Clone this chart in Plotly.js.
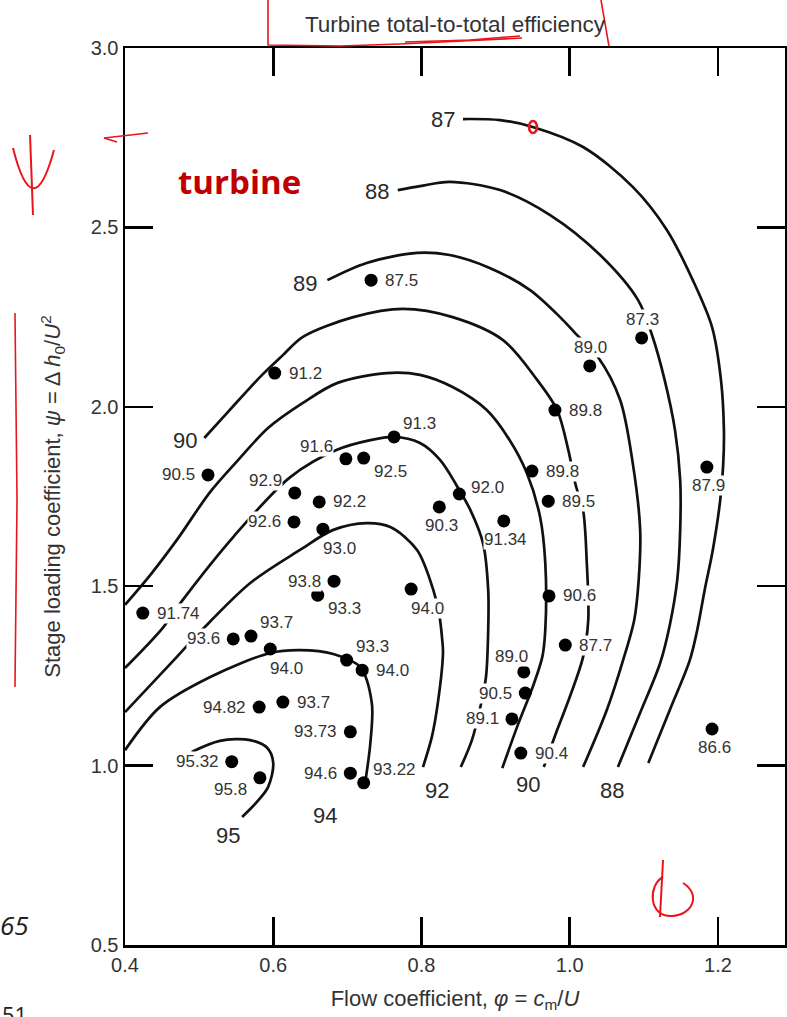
<!DOCTYPE html>
<html>
<head>
<meta charset="utf-8">
<script src="https://cdn.plot.ly/plotly-3.0.1.min.js"></script>
<style>html,body{margin:0;padding:0;background:#fff;}#chart{width:787px;height:1017px;}</style>
</head>
<body>
<div id="chart"></div>
<script>
// ---- measured data points (flow coefficient, loading coefficient, efficiency label)
const ptX = [0.732,1.097,1.027,0.602,0.980,0.763,0.698,0.722,0.512,0.949,0.851,0.629,0.971,0.662,0.824,0.628,0.667,0.911,1.185,0.682,0.786,0.660,0.424,0.972,0.546,0.570,0.596,0.699,0.720,0.938,0.994,0.940,0.581,0.613,0.922,1.192,0.704,0.934,0.544,0.704,0.582,0.722];
const ptY = [2.353,2.192,2.114,2.094,1.991,1.916,1.855,1.857,1.810,1.821,1.757,1.760,1.737,1.735,1.721,1.679,1.659,1.682,1.832,1.514,1.492,1.475,1.425,1.473,1.353,1.361,1.325,1.294,1.266,1.261,1.336,1.202,1.163,1.177,1.130,1.102,1.094,1.035,1.011,0.979,0.966,0.952];
const ptLabel = ["87.5","87.3","89.0","91.2","89.8","91.3","91.6","92.5","90.5","89.8","92.0","92.9","89.5","92.2","90.3","92.6","93.0","91.34","87.9","93.8","94.0","93.3","91.74","90.6","93.6","93.7","94.0","93.3","94.0","89.0","87.7","90.5","94.82","93.7","89.1","86.6","93.73","90.4","95.32","94.6","95.8","93.22"];
// label placement codes (layout only)
const ptPlace = ["r","t","t","r","r","tr","tl","br","l","r","rU","tl","r","r","b","l","bR","b","b","l","bR","br","r","r","l","tr","bR","tr","r","tL","r","l","l","r","l","b","l","r","l","l","bl","tr"];

// ---- efficiency contour lines
const contourLevels = [87,88,89,90,91,92,93,94,95];
const c87x = [0.856,0.906,0.950,1.018,1.085,1.131,1.166,1.192,1.204,1.208,1.207,1.203,1.193,1.182,1.172,1.162,1.135,1.106];
const c87y = [2.802,2.799,2.780,2.724,2.613,2.493,2.353,2.222,2.075,1.935,1.838,1.740,1.601,1.489,1.378,1.294,1.155,1.007];
const c88x = [0.768,0.798,0.838,0.906,0.973,1.041,1.092,1.111,1.128,1.142,1.149,1.149,1.145,1.135,1.122,1.095,1.065];
const c88y = [2.604,2.615,2.627,2.604,2.535,2.423,2.298,2.200,2.075,1.935,1.796,1.657,1.517,1.392,1.286,1.147,0.996];
const c89x = [0.673,0.726,0.794,0.838,0.892,0.946,0.987,1.007,1.038,1.068,1.085,1.095,1.093,1.087,1.072,1.050,1.018];
const c89y = [2.353,2.401,2.429,2.423,2.387,2.326,2.250,2.206,2.139,2.019,1.843,1.657,1.517,1.406,1.294,1.155,0.996];
const c90x = [0.507,0.535,0.562,0.585,0.613,0.640,0.708,0.775,0.842,0.910,0.956,0.983,0.998,1.008,1.018,1.023,1.025,1.018,1.000,0.983,0.965];
const c90y = [1.913,1.977,2.038,2.089,2.144,2.195,2.250,2.273,2.250,2.186,2.075,1.991,1.880,1.782,1.712,1.565,1.406,1.303,1.191,1.099,0.996];
const c91x = [0.400,0.434,0.470,0.515,0.555,0.593,0.640,0.686,0.753,0.798,0.842,0.888,0.919,0.942,0.960,0.967,0.967,0.963,0.950,0.929,0.909];
const c91y = [1.448,1.531,1.629,1.763,1.857,1.941,2.011,2.066,2.094,2.089,2.055,1.991,1.907,1.816,1.693,1.565,1.378,1.303,1.219,1.108,0.993];
const c92x = [0.400,0.451,0.478,0.546,0.623,0.686,0.731,0.762,0.798,0.825,0.851,0.866,0.883,0.890,0.890,0.887,0.880,0.868,0.853];
const c92y = [1.272,1.384,1.462,1.637,1.804,1.880,1.907,1.916,1.899,1.852,1.768,1.712,1.620,1.489,1.378,1.247,1.169,1.071,0.996];
const c93x = [0.400,0.470,0.501,0.569,0.636,0.681,0.726,0.758,0.794,0.816,0.824,0.828,0.829,0.822,0.814,0.802];
const c93y = [1.149,1.303,1.372,1.509,1.601,1.657,1.676,1.665,1.601,1.489,1.420,1.350,1.314,1.174,1.080,0.996];
const c94x = [0.400,0.447,0.515,0.596,0.636,0.681,0.717,0.733,0.731,0.724];
const c94y = [1.043,1.163,1.247,1.314,1.322,1.311,1.275,1.174,1.063,0.952];
const c95x = [0.490,0.528,0.569,0.592,0.600,0.593,0.578,0.558];
const c95y = [1.038,1.069,1.071,1.049,1.007,0.940,0.899,0.857];
const contourX = [c87x,c88x,c89x,c90x,c91x,c92x,c93x,c94x,c95x];
const contourY = [c87y,c88y,c89y,c90y,c91y,c92y,c93y,c94y,c95y];

// contour level labels
const levelLabelText = ["87","88","89","90","92","90","88","94","95"];
const levelLabelX = [0.829,0.740,0.643,0.481,0.821,0.944,1.057,0.670,0.539];
const levelLabelY = [2.802,2.599,2.345,1.907,0.932,0.946,0.932,0.862,0.804];

// axis ticks
const xTicks = [0.4,0.6,0.8,1.0,1.2];
const xTickText = ["0.4","0.6","0.8","1.0","1.2"];
const yTicks = [0.5,1.0,1.5,2.0,2.5,3.0];
const yTickText = ["0.5","1.0","1.5","2.0","2.5","3.0"];

// ---------------------------------------------------------------
const SANS = 'Liberation Sans, Arial, Helvetica, sans-serif';
const traces = [];
contourLevels.forEach((lev,i)=>{
  traces.push({type:'scatter',mode:'lines',x:contourX[i],y:contourY[i],name:String(lev),
    line:{color:'#111',width:2.7,shape:'spline',smoothing:0.9},hoverinfo:'name',showlegend:false});
});
traces.push({type:'scatter',mode:'markers',x:ptX,y:ptY,text:ptLabel,hoverinfo:'text',
  marker:{color:'#000',size:13},showlegend:false});

const PLACE = {
  r:{xanchor:'left',yanchor:'middle',xshift:13,yshift:0},
  rU:{xanchor:'left',yanchor:'middle',xshift:11,yshift:6},
  l:{xanchor:'right',yanchor:'middle',xshift:-12,yshift:0},
  t:{xanchor:'center',yanchor:'bottom',xshift:1,yshift:8},
  tL:{xanchor:'right',yanchor:'bottom',xshift:5,yshift:5},
  b:{xanchor:'center',yanchor:'top',xshift:2,yshift:-8},
  tr:{xanchor:'left',yanchor:'bottom',xshift:8,yshift:3},
  tl:{xanchor:'right',yanchor:'bottom',xshift:-12,yshift:2},
  br:{xanchor:'left',yanchor:'top',xshift:9,yshift:-3},
  bR:{xanchor:'left',yanchor:'top',xshift:-1,yshift:-9},
  bl:{xanchor:'right',yanchor:'middle',xshift:-12,yshift:-12}
};
const ann = [];
ptLabel.forEach((t,i)=>{
  const p = PLACE[ptPlace[i]];
  ann.push(Object.assign({x:ptX[i],y:ptY[i],xref:'x',yref:'y',text:t,showarrow:false,
    bgcolor:'#fff',borderpad:0,font:{family:SANS,size:17,color:'#333'}},p));
});
levelLabelText.forEach((t,i)=>{
  ann.push({x:levelLabelX[i],y:levelLabelY[i],xref:'x',yref:'y',text:t,showarrow:false,
    bgcolor:'#fff',borderpad:1,xanchor:'center',yanchor:'middle',
    font:{family:SANS,size:22,color:'#2a2a2a'}});
});
// red hand annotations (text)
const RED='#e8151b';
ann.push({xref:'paper',yref:'paper',x:0.1742,y:0.8517,text:'<b>turbine</b>',showarrow:false,
  font:{family:'Open Sans, sans-serif',size:33,color:'#c00000'},xanchor:'center',yanchor:'middle'});
ann.push({xref:'paper',yref:'paper',x:-0.1924,y:0.0223,text:'<i>65</i>',showarrow:false,
  font:{family:'Open Sans, sans-serif',size:26,color:'#222'},xanchor:'left',yanchor:'middle'});
ann.push({xref:'paper',yref:'paper',x:-0.1894,y:-0.0770,text:'51',showarrow:false,
  font:{family:'Open Sans, sans-serif',size:22,color:'#222'},xanchor:'left',yanchor:'middle'});

const redLine = (path,w)=>({type:'path',xref:'paper',yref:'paper',path:path,line:{color:RED,width:w||1.6},layer:'above'});
const shapes = [
  // bracket round the title
  redLine('M 0.2167,1.0535 L 0.2167,1.0033 L 0.3258,1.0022 L 0.4167,1.0045 L 0.6015,1.0111'),
  redLine('M 0.4242,1.0067 L 0.5227,1.0089 L 0.5985,1.0134'),
  redLine('M 0.7212,1.0535 L 0.7333,1.0022'),
  // bracket along the y title
  redLine('M -0.1667,0.7046 L -0.1636,0.4961 L -0.1667,0.2876'),
  // short mark near psi = 2.8
  redLine('M -0.0121,0.8952 L -0.0318,0.8997 L 0.0348,0.9052'),
  // handwritten psi
  redLine('M -0.1439,0.9030 L -0.1394,0.8138',2),
  redLine('M -0.1697,0.8885 Q -0.1394,0.7999 -0.1076,0.8863',2),
  // handwritten phi
  redLine('M 0.8152,0.0948 L 0.8106,0.0312',2),
  redLine('M 0.8152,0.0758 C 0.7924,0.0669 0.7924,0.0312 0.8288,0.0323 C 0.8591,0.0334 0.8742,0.0557 0.8455,0.0691',2),
  // small red loop on the 87 line
  {type:'circle',xref:'paper',yref:'paper',x0:0.6121,x1:0.6242,y0:0.9052,y1:0.9186,line:{color:RED,width:2.6},layer:'above'}
];

const axisCommon = {showline:true,linecolor:'#000',linewidth:2.5,mirror:'ticks',ticks:'inside',
  ticklen:28,tickwidth:2.5,tickcolor:'#000',showgrid:false,zeroline:false,
  tickfont:{family:SANS,size:20,color:'#333'}};
const layout = {
  width:787,height:1017,margin:{l:125,r:2,t:48,b:72},paper_bgcolor:'#fff',plot_bgcolor:'#fff',
  showlegend:false,
  title:{text:'Turbine total-to-total efficiency',font:{family:SANS,size:22.5,color:'#333'},
    x:0.5,xref:'paper',y:1-24/1017,yref:'container',xanchor:'center',yanchor:'middle'},
  xaxis:Object.assign({},axisCommon,{range:[0.4,1.2904],tickvals:xTicks,ticktext:xTickText,
    title:{text:'Flow coefficient, <i>φ</i> = <i>c</i><sub>m</sub>/<i>U</i>',font:{family:SANS,size:22,color:'#333'},standoff:16}}),
  yaxis:Object.assign({},axisCommon,{range:[0.5,3.0],tickvals:yTicks,ticktext:yTickText,
    title:{text:'Stage loading coefficient, <i>ψ</i> = Δ <i>h</i><sub>0</sub>/<i>U</i><sup>2</sup>',font:{family:SANS,size:22,color:'#333'},standoff:24}}),
  annotations:ann,shapes:shapes
};
Plotly.newPlot('chart',traces,layout,{displayModeBar:false,staticPlot:true});
</script>
</body>
</html>
